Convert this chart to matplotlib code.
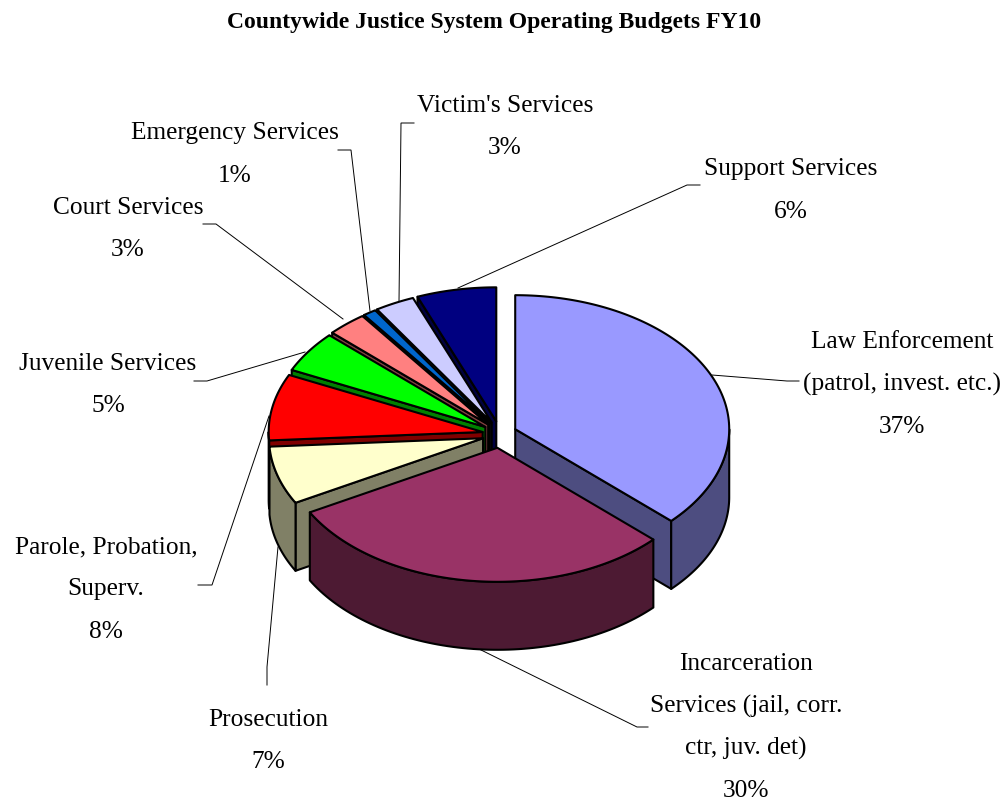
#!/usr/bin/env python3
"""Countywide justice system budgets as an exploded 3D pie."""

import matplotlib
matplotlib.use('Agg')
import matplotlib.pyplot as plt
from matplotlib.patches import Polygon
import numpy as np

labels = ['Law Enforcement\n(patrol, invest. etc.)',
          'Incarceration\nServices (jail, corr.\nctr, juv. det)',
          'Prosecution',
          'Parole, Probation,\nSuperv.',
          'Juvenile Services',
          'Court Services',
          'Emergency Services',
          "Victim's Services",
          'Support Services']
values = [37, 30, 7, 8, 5, 3, 1, 3, 6]
colors = ['#9999FF', '#993366', '#FFFFCC', '#FF0000', '#00FF00',
          '#FF8080', '#0066CC', '#CCCCFF', '#000080']

# label centres in x, first line baseline in y (pixels)
label_pos = [(902, 348), (746, 670), (268, 726), (106, 553), (108, 370),
             (128, 214), (235, 139), (505, 112), (791, 175)]

# leader lines from label to slice
leaders = [
    [(799, 382), (787, 382), (712, 376)],
    [(648, 728), (637, 728), (477, 649)],
    [(267, 686), (267, 668), (278, 548)],
    [(198, 586), (212, 586), (269, 417)],
    [(194, 382), (207, 382), (305, 353)],
    [(203, 225), (216, 225), (343, 320)],
    [(338, 151), (351, 151), (370, 312)],
    [(414, 124), (401, 124), (399, 303)],
    [(700, 186), (687, 186), (458, 289)],
]

CX, CY = 499.5, 435.5  # pie centre before explosion
RX, RY = 214, 134      # top ellipse radii
DEPTH = 68             # extrusion height
EXPLODE_X, EXPLODE_Y = 0.08, 0.10
LW = 1.5
FONT = 'Liberation Serif'
LINE_PX = 42.5


def rim(theta, ox, oy):
    # theta in degrees, clockwise from 12 o'clock
    t = np.radians(theta)
    return ox + RX * np.sin(t), oy - RY * np.cos(t)


def face(ax, xs, ys, color, z):
    pts = np.column_stack([xs, ys])
    ax.add_patch(Polygon(pts, closed=True, facecolor=color, edgecolor='black',
                         linewidth=LW, joinstyle='round', zorder=z))


def draw_slice(ax, t0, t1, color, z):
    mid = np.radians((t0 + t1) / 2)
    ox = CX + EXPLODE_X * RX * np.sin(mid)
    oy = CY - EXPLODE_Y * RY * np.cos(mid)
    dark = tuple(c * 0.5 for c in matplotlib.colors.to_rgb(color))

    # flat cut faces, only the ones turned towards the viewer
    for t, normal in ((t0, t0 - 90), (t1, t1 + 90)):
        if np.cos(np.radians(normal)) < -1e-6:
            rx, ry = rim(t, ox, oy)
            face(ax, [ox, rx, rx, ox], [oy, ry, ry + DEPTH, oy + DEPTH], dark, z)

    # curved outer wall on the front half
    a0, a1 = max(t0, 90), min(t1, 270)
    if a1 > a0:
        arc = np.linspace(a0, a1, 80)
        ax_, ay_ = rim(arc, ox, oy)
        face(ax, np.r_[ax_, ax_[::-1]], np.r_[ay_, ay_[::-1] + DEPTH], dark, z)

    # top surface
    arc = np.linspace(t0, t1, 120)
    tx, ty = rim(arc, ox, oy)
    face(ax, np.r_[ox, tx], np.r_[oy, ty], color, z)


def main():
    fig = plt.figure(figsize=(10.04, 8.03), dpi=100)
    ax = fig.add_axes([0, 0, 1, 1])
    ax.set_xlim(0, 1004)
    ax.set_ylim(803, 0)
    ax.axis('off')

    total = sum(values)
    edges = np.r_[0, np.cumsum(values)] / total * 360

    # paint from the back of the pie to the front
    mids = (edges[:-1] + edges[1:]) / 2
    order = np.argsort(-np.cos(np.radians(mids)))
    for z, i in enumerate(order):
        draw_slice(ax, edges[i], edges[i + 1], colors[i], 5 + z)

    for path in leaders:
        xs, ys = zip(*path)
        ax.plot(xs, ys, color='black', lw=0.7, zorder=2, solid_joinstyle='miter')

    for lab, val, (x, y) in zip(labels, values, label_pos):
        for n, line in enumerate(lab.split('\n') + [f'{val}%']):
            ax.text(x, y + n * LINE_PX, line, ha='center', va='baseline',
                    family=FONT, fontsize=18.3, color='black', zorder=30)

    ax.text(494, 28, 'Countywide Justice System Operating Budgets FY10',
            ha='center', va='baseline', family=FONT, fontsize=17,
            fontweight='bold', color='black')

    fig.savefig('out.png', dpi=100, facecolor='white')
    plt.close(fig)


if __name__ == '__main__':
    main()
